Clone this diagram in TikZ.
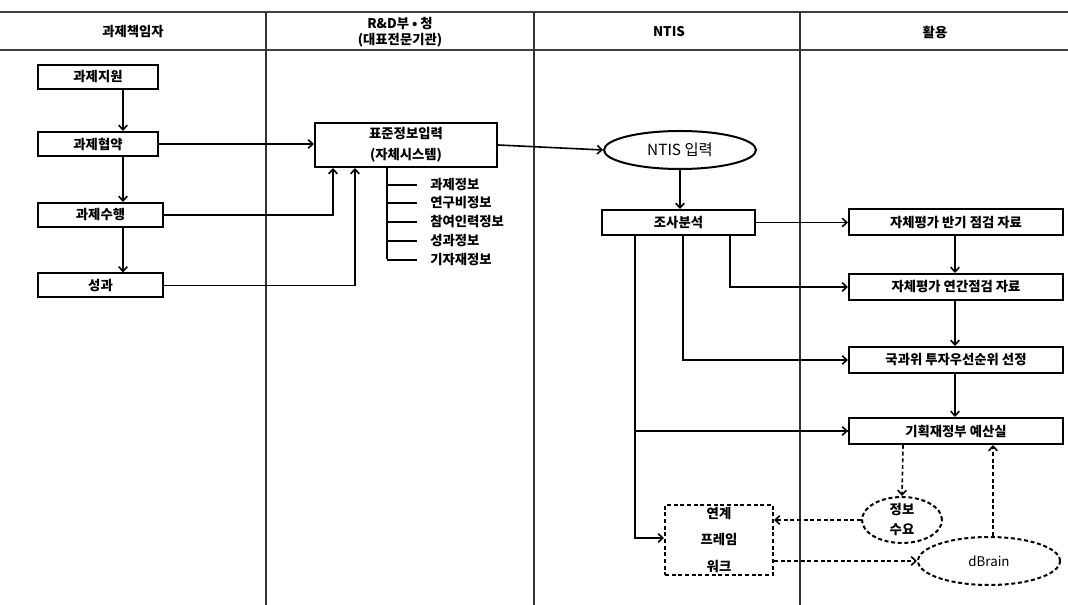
\documentclass[tikz,border=0pt]{standalone}
\usepackage{fontspec}
\setmainfont{Noto Sans CJK KR}
\usetikzlibrary{shapes.geometric,arrows.meta}
\tikzset{
  px/.style={x=0.75pt,y=-0.75pt},
  grid/.style={line width=0.8pt,draw=black!80},
  hline/.style={line width=1.5pt,draw=black!75},
  box/.style={draw,line width=1.5pt,inner sep=0pt,font=\bfseries\fontsize{10}{11}\selectfont,align=center},
  dbox/.style={box,dash pattern=on 3pt off 2pt},
  oval/.style={draw,ellipse,line width=1.5pt,inner sep=0pt,align=center},
  doval/.style={oval,dash pattern=on 3pt off 2pt,font=\bfseries\fontsize{10}{15}\selectfont},
  arr/.style={line width=1.2pt,-{Straight Barb[length=3.5pt,width=6.5pt]}},
  darr/.style={arr,dash pattern=on 3pt off 2pt},
  conn/.style={line width=1.2pt},
  head/.style={font=\bfseries\fontsize{10}{12}\selectfont,align=center},
  item/.style={anchor=west,inner sep=0pt,font=\bfseries\fontsize{10}{11}\selectfont},
}
\begin{document}
\begin{tikzpicture}[px]
\useasboundingbox (0,0) rectangle (1068,605);
% frame
\draw[hline] (0,12) -- (1068,12);
\draw[hline] (0,50) -- (1068,50);
\foreach \x in {266,534,800} \draw[grid] (\x,12) -- (\x,605);
% headers
\node[head] (h1) at (133,32) {과제책임자};
\node[head] (h2) at (400,32) {R\&D부 • 청\\(대표전문기관)};
\node[head] (h3) at (669,32) {NTIS};
\node[head] (h4) at (935,32) {활용};
% column 1
\node[box,minimum width=90pt,minimum height=18pt] (a1) at (98,77) {과제지원};
\node[box,minimum width=90pt,minimum height=18pt] (a2) at (98,144) {과제협약};
\node[box,minimum width=93.75pt,minimum height=18pt] (a3) at (100.5,215) {과제수행};
\node[box,minimum width=93.75pt,minimum height=18pt] (a4) at (100.5,285.5) {성과};
\coordinate (c1) at (123,0);
\draw[arr] (a1.south -| c1) -- (a2.north -| c1);
\draw[arr] (a2.south -| c1) -- (a3.north -| c1);
\draw[arr] (a3.south -| c1) -- (a4.north -| c1);
% column 2
\node[box,minimum width=136.5pt,minimum height=33pt,font=\bfseries\fontsize{10}{16}\selectfont] (b) at (406,145) {표준정보입력\\(자체시스템)};
\draw[arr] (a2.east) -- (a2.east -| b.west);
\coordinate (c2) at (333,0);
\coordinate (c3) at (355,0);
\draw[arr] (a3.east) -| (b.south -| c2);
\draw[arr] (a4.east) -| (b.south -| c3);
\coordinate (s0) at (387,167);
\coordinate (s5) at (387,259);
\draw[conn] (s0) -- (s5);
\foreach \y/\t [count=\i] in {185/과제정보,203/연구비정보,222/참여인력정보,241/성과정보,260/기자재정보}{
  \draw[conn] (387,\y) -- (417,\y);
  \node[item] (it\i) at (430,\y) {\t};
}
% NTIS column
\node[oval,minimum width=114pt,minimum height=28.5pt,font=\fontsize{11.5}{13}\selectfont] (n) at (680,150) {NTIS 입력};
\draw[arr] (b.east) -- (n.west);
\node[box,minimum width=114.75pt,minimum height=18.75pt] (s) at (678.5,222.5) {조사분석};
\draw[arr] (n.south) -- (s.north -| n.south);
% column 4
\node[box,minimum width=160.5pt,minimum height=19.5pt] (r1) at (956,222.5) {자체평가 반기 점검 자료};
\node[box,minimum width=160.5pt,minimum height=19.5pt] (r2) at (956,287) {자체평가 연간점검 자료};
\node[box,minimum width=160.5pt,minimum height=19.5pt] (r3) at (956,360) {국과위 투자우선순위 선정};
\node[box,minimum width=160.5pt,minimum height=19.5pt] (r4) at (956,431) {기획재정부 예산실};
\coordinate (c4) at (955,0);
\draw[arr] (r1.south -| c4) -- (r2.north -| c4);
\draw[arr] (r2.south -| c4) -- (r3.north -| c4);
\draw[arr] (r3.south -| c4) -- (r4.north -| c4);
\draw[arr] (s.east) -- (r1.west);
\coordinate (c5) at (730,0);
\coordinate (c6) at (683,0);
\coordinate (c7) at (635,0);
\draw[arr] (s.south -| c5) |- (r2.west);
\draw[arr] (s.south -| c6) |- (r3.west);
\draw[conn] (s.south -| c7) |- (r4.west);
\draw[arr] (c7 |- r4.west) -- (r4.west);
% bottom dashed part
\node[doval,minimum width=60pt,minimum height=31.5pt] (q) at (902,520) {정보\\수요};
\node[dbox,minimum width=81pt,minimum height=52.5pt,font=\bfseries\fontsize{10}{20}\selectfont] (f) at (719,540) {연계\\프레임\\워크};
\node[doval,minimum width=106.5pt,minimum height=36pt,font=\fontsize{10}{11}\selectfont] (d) at (989,561) {dBrain};
\coordinate (c8) at (903,0);
\coordinate (c9) at (993,0);
\coordinate (e1) at (665,538);
\draw[arr] (c7 |- r4.west) |- (f.west |- e1);
\draw[darr] (r4.south -| c8) -- (q.north);
\draw[darr] (q.west) -- (q.west -| f.east);
\draw[darr] (f.east |- d.west) -- (d.west);
\draw[darr] (d.north -| c9) -- (r4.south -| c9);
\end{tikzpicture}
\end{document}
